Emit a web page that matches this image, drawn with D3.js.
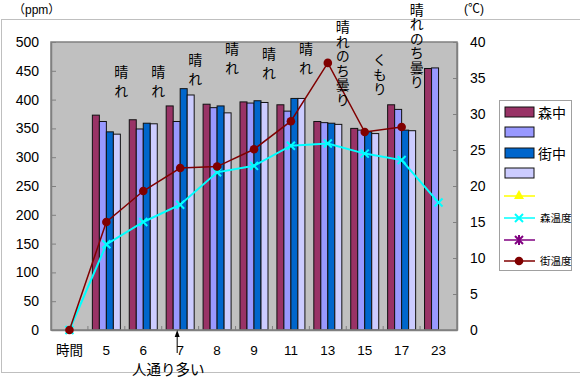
<!DOCTYPE html>
<html>
<head>
<meta charset="utf-8">
<script src="https://cdn.jsdelivr.net/npm/d3@7"></script>
<style>
  body { margin: 0; background: #fff; }
  svg text { font-family: "Liberation Sans", Arial, "Noto Sans CJK JP", sans-serif; }
</style>
</head>
<body>
<div id="chart-container"></div>
<script>
// chart data
var categories = ["時間", "5", "6", "7", "8", "9", "11", "13", "15", "17", "23"];
var moriNaka   = [null, 373, 365, 389, 392, 396, 391, 362, 350, 391, 454];
var series2    = [null, 362, 349, 362, 386, 394, 380, 360, 347, 383, 455];
var machiNaka  = [null, 344, 359, 419, 389, 398, 402, 359, 344, 347, null];
var series4    = [null, 340, 358, 408, 377, 395, 402, 357, 341, 346, null];
var moriTemp   = [0, 11.9, 15.0, 17.4, 21.9, 22.8, 25.6, 25.9, 24.5, 23.6, 17.7];
var machiTemp  = [0, 15.0, 19.3, 22.5, 22.7, 25.1, 29.0, 37.1, 27.5, 28.2, null];
var ppmTicks   = [0, 50, 100, 150, 200, 250, 300, 350, 400, 450, 500];
var tempTicks  = [0, 5, 10, 15, 20, 25, 30, 35, 40];

// weather notes written vertically above each group (top given in ppm units)
var weatherCats = ["5", "6", "7", "8", "9", "11", "13", "15", "17"];
var weatherText = ["晴れ", "晴れ", "晴れ", "晴れ", "晴れ", "晴れ", "晴れのち曇り", "くもり", "晴れのち曇り"];
var weatherTop  = [460, 460, 481, 500, 491, 500, 538, 481, 569];

var legendNames = ["森中", "", "街中", "", "", "森温度", "", "街温度"];

var width = 580, height = 378;
var plotL = 51, plotR = 457, plotT = 42, plotB = 330;

var svg = d3.select("#chart-container")
    .append("svg")
    .attr("width", width)
    .attr("height", height);

// chart area border
svg.append("rect")
    .attr("x", 1.5).attr("y", 19.5)
    .attr("width", 620).attr("height", 353)
    .attr("fill", "none")
    .attr("stroke", "#bfbfbf");

// unit labels
svg.append("text")
    .attr("x", 13).attr("y", 14)
    .style("font-size", "12px")
    .text("（ppm）");
svg.append("text")
    .attr("x", 464).attr("y", 13)
    .style("font-size", "12px")
    .text("(℃)");

// scales
var xScale = d3.scaleBand()
    .domain(categories)
    .range([plotL, plotR]);

var yScale = d3.scaleLinear().domain([0, 500]).range([plotB, plotT]);
var yTemp = d3.scaleLinear().domain([0, 40]).range([plotB, plotT]);

var barSeries = [
    {values: moriNaka, color: "#993366"},
    {values: series2, color: "#9999ff"},
    {values: machiNaka, color: "#0066cc"},
    {values: series4, color: "#ccccff"}
];
var groupW = 28;
var xInner = d3.scaleBand()
    .domain(d3.range(barSeries.length))
    .range([(xScale.bandwidth() - groupW) / 2, (xScale.bandwidth() + groupW) / 2]);

// plot area
svg.append("rect")
    .attr("x", plotL).attr("y", plotT)
    .attr("width", plotR - plotL).attr("height", plotB - plotT)
    .attr("fill", "#c0c0c0");

// bars
var barsGroup = svg.append("g").attr("id", "bars");
barSeries.forEach(function(s, si) {
    categories.forEach(function(c, i) {
        var v = s.values[i];
        if (v === null) return;
        barsGroup.append("rect")
            .attr("x", xScale(c) + xInner(si))
            .attr("y", yScale(v))
            .attr("width", xInner.bandwidth())
            .attr("height", yScale(0) - yScale(v))
            .attr("fill", s.color)
            .attr("stroke", "#111")
            .attr("stroke-width", 1);
    });
});

// plot border
svg.append("rect")
    .attr("x", plotL).attr("y", plotT)
    .attr("width", plotR - plotL).attr("height", plotB - plotT)
    .attr("fill", "none")
    .attr("stroke", "#808080")
    .attr("stroke-width", 1.5);

// axes
var leftAxis = svg.append("g")
    .attr("transform", "translate(" + plotL + ",0)")
    .call(d3.axisLeft(yScale).tickValues(ppmTicks).tickSizeInner(-5).tickSizeOuter(0).tickPadding(12));
var rightAxis = svg.append("g")
    .attr("transform", "translate(" + plotR + ",0)")
    .call(d3.axisRight(yTemp).tickValues(tempTicks).tickSizeInner(-4).tickSizeOuter(0).tickPadding(13));
var bottomAxis = svg.append("g")
    .attr("transform", "translate(0," + plotB + ")")
    .call(d3.axisBottom(xScale).tickSize(0).tickPadding(15));

[leftAxis, rightAxis, bottomAxis].forEach(function(a) {
    a.select(".domain").attr("stroke", "#808080").attr("stroke-width", 1.5);
    a.selectAll(".tick line").attr("stroke", "#808080");
    a.selectAll(".tick text")
        .attr("fill", "#000")
        .style("font-size", "14px")
        .style("font-family", "'Liberation Sans', Arial, 'Noto Sans CJK JP', sans-serif");
});
bottomAxis.selectAll(".tick text").style("font-size", "13.5px");

// category boundary ticks on the x axis
svg.append("g").selectAll("line")
    .data(categories.slice(1))
    .join("line")
    .attr("x1", function(d) { return xScale(d); })
    .attr("x2", function(d) { return xScale(d); })
    .attr("y1", plotB)
    .attr("y2", plotB - 4)
    .attr("stroke", "#808080");

// temperature lines
var tempLine = d3.line()
    .defined(function(d) { return d.value !== null; })
    .x(function(d) { return xScale(d.cat) + xScale.bandwidth() / 2; })
    .y(function(d) { return yTemp(d.value); });

var moriData = categories.map(function(c, i) { return {cat: c, value: moriTemp[i]}; });
var machiData = categories.map(function(c, i) { return {cat: c, value: machiTemp[i]}; });

var linesGroup = svg.append("g").attr("id", "lines");

linesGroup.append("path")
    .datum(moriData)
    .attr("fill", "none")
    .attr("stroke", "#00ffff")
    .attr("stroke-width", 2)
    .attr("d", tempLine);

moriData.filter(function(d) { return d.value !== null; }).forEach(function(d) {
    var cx = xScale(d.cat) + xScale.bandwidth() / 2, cy = yTemp(d.value);
    linesGroup.append("path")
        .attr("d", "M" + (cx - 4) + "," + (cy - 4) + "L" + (cx + 4) + "," + (cy + 4) +
                   "M" + (cx - 4) + "," + (cy + 4) + "L" + (cx + 4) + "," + (cy - 4))
        .attr("stroke", "#00ffff")
        .attr("stroke-width", 2);
});

linesGroup.append("path")
    .datum(machiData)
    .attr("fill", "none")
    .attr("stroke", "#800000")
    .attr("stroke-width", 1.5)
    .attr("d", tempLine);

linesGroup.selectAll("circle")
    .data(machiData.filter(function(d) { return d.value !== null; }))
    .join("circle")
    .attr("cx", function(d) { return xScale(d.cat) + xScale.bandwidth() / 2; })
    .attr("cy", function(d) { return yTemp(d.value); })
    .attr("r", 4.3)
    .attr("fill", "#800000");

// vertical weather notes
var notes = svg.append("g").attr("id", "notes");
weatherCats.forEach(function(c, i) {
    var txt = weatherText[i];
    var spacing = Array.from(txt).length <= 2 ? 5 : 0.5;
    notes.append("text")
        .attr("x", xScale(c) + xScale.bandwidth() / 2 + 15)
        .attr("y", yScale(weatherTop[i]))
        .style("writing-mode", "vertical-rl")
        .style("letter-spacing", spacing + "px")
        .style("font-size", "14px")
        .style("font-family", "'Noto Sans CJK JP', sans-serif")
        .text(txt);
});

// arrow note under 7
var ax = xScale("7") + xScale.bandwidth() / 2 - 3;
svg.append("line")
    .attr("x1", ax).attr("x2", ax)
    .attr("y1", 353).attr("y2", 334)
    .attr("stroke", "#000");
svg.append("path")
    .attr("d", "M" + ax + ",330L" + (ax - 2.5) + ",337L" + (ax + 2.5) + ",337Z")
    .attr("fill", "#000");
svg.append("text")
    .attr("x", ax - 9).attr("y", 375)
    .attr("text-anchor", "middle")
    .style("font-size", "14.5px")
    .style("font-family", "'Noto Sans CJK JP', sans-serif")
    .text("人通り多い");

// legend
var legend = svg.append("g").attr("id", "legend");
legend.append("rect")
    .attr("x", 499.5).attr("y", 100.5)
    .attr("width", 72).attr("height", 170)
    .attr("fill", "#fff")
    .attr("stroke", "#a0a0a0");

var legendY = [112, 132, 153, 173, 196, 218, 240, 261];
var lineStyles = [
    {color: "#ffff00", marker: "triangle"},
    {color: "#00ffff", marker: "x"},
    {color: "#800080", marker: "star"},
    {color: "#800000", marker: "circle"}
];
legendNames.forEach(function(name, i) {
    var y = legendY[i];
    if (i < 4) {
        legend.append("rect")
            .attr("x", 505).attr("y", y - 5)
            .attr("width", 29).attr("height", 10)
            .attr("fill", barSeries[i].color)
            .attr("stroke", "#111")
            .attr("stroke-width", 1);
        legend.append("text")
            .attr("x", 538).attr("y", y + 5.5)
            .style("font-size", "14px")
            .style("font-family", "'Noto Sans CJK JP', sans-serif")
            .text(name);
    } else {
        var st = lineStyles[i - 4];
        legend.append("line")
            .attr("x1", 504).attr("x2", 535)
            .attr("y1", y).attr("y2", y)
            .attr("stroke", st.color)
            .attr("stroke-width", 1.5);
        var mx = 519;
        if (st.marker === "triangle") {
            legend.append("path")
                .attr("d", "M" + mx + "," + (y - 6) + "L" + (mx - 5) + "," + (y + 3) + "L" + (mx + 5) + "," + (y + 3) + "Z")
                .attr("fill", st.color);
        } else if (st.marker === "x") {
            legend.append("path")
                .attr("d", "M" + (mx - 4) + "," + (y - 4) + "L" + (mx + 4) + "," + (y + 4) +
                           "M" + (mx - 4) + "," + (y + 4) + "L" + (mx + 4) + "," + (y - 4))
                .attr("stroke", st.color).attr("stroke-width", 2);
        } else if (st.marker === "star") {
            legend.append("path")
                .attr("d", "M" + (mx - 4) + "," + (y - 4) + "L" + (mx + 4) + "," + (y + 4) +
                           "M" + (mx - 4) + "," + (y + 4) + "L" + (mx + 4) + "," + (y - 4) +
                           "M" + mx + "," + (y - 5) + "L" + mx + "," + (y + 5))
                .attr("stroke", st.color).attr("stroke-width", 2);
        } else {
            legend.append("circle")
                .attr("cx", mx).attr("cy", y).attr("r", 4.3)
                .attr("fill", st.color);
        }
        legend.append("text")
            .attr("x", 540).attr("y", y + 4)
            .style("font-size", "10.5px")
            .style("font-family", "'Noto Sans CJK JP', sans-serif")
            .text(name);
    }
});
</script>
</body>
</html>
